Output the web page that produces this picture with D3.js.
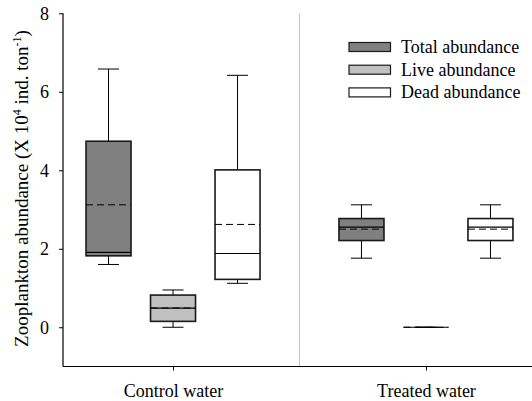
<!DOCTYPE html>
<html>
<head>
<meta charset="utf-8">
<script src="https://cdn.jsdelivr.net/npm/d3@7"></script>
<style>
  body { margin: 0; background: #fff; }
  svg { font-family: "Liberation Serif", "Times New Roman", serif; }
</style>
</head>
<body>
<div id="chart"></div>
<script>
var width = 532, height = 401;

// categories & series
const groups = ["Control water", "Treated water"];
const series = ["Total abundance", "Live abundance", "Dead abundance"];
const seriesFill = ["#808080", "#c0c0c0", "#ffffff"];

// box stats, [group][series]
const whiskerLow  = [[1.60, 0.00, 1.12], [1.76, 0.00, 1.76]];
const q1          = [[1.82, 0.15, 1.22], [2.21, 0.00, 2.21]];
const median      = [[1.91, 0.49, 1.88], [2.55, 0.00, 2.55]];
const q3          = [[4.74, 0.82, 4.01], [2.77, 0.00, 2.77]];
const whiskerHigh = [[6.58, 0.95, 6.42], [3.12, 0.00, 3.12]];
const mean        = [[3.12, 0.49, 2.62], [2.50, 0.00, 2.50]];

const yTicks = [0, 2, 4, 6, 8];

let svg = d3.select('#chart')
  .append('svg')
  .attr('width', width)
  .attr('height', height);

let plotLeft = 63, plotBottom = 366.5, plotTop = 13.3;

let yScale = d3.scaleLinear()
  .domain([-1, 8])
  .range([plotBottom, plotTop]);

let xScale = d3.scalePoint()
  .domain(groups)
  .range([plotLeft, 536])
  .padding(0.435);

let sub = d3.scalePoint()
  .domain(series)
  .range([-64.5, 64.5]);

let boxW = 45, capW = 21;

// separator between groups
let sep = (xScale(groups[0]) + xScale(groups[1])) / 2;
svg.append('line')
  .attr('x1', sep).attr('x2', sep)
  .attr('y1', plotTop).attr('y2', plotBottom)
  .attr('stroke', '#c8c8c8')
  .attr('stroke-width', 1.2);

// boxes
let boxes = [];
groups.forEach((g, gi) => {
  series.forEach((s, si) => {
    boxes.push({g, s, si, lo: whiskerLow[gi][si], q1: q1[gi][si], med: median[gi][si],
      q3: q3[gi][si], hi: whiskerHigh[gi][si], mean: mean[gi][si]});
  });
});

let bx = svg.selectAll('g.box')
  .data(boxes)
  .enter()
  .append('g')
  .attr('class', 'box')
  .attr('transform', d => `translate(${xScale(d.g) + sub(d.s)},0)`);

// whiskers
bx.append('line')
  .attr('x1', 0).attr('x2', 0)
  .attr('y1', d => yScale(d.hi)).attr('y2', d => yScale(d.q3))
  .attr('stroke', '#000').attr('stroke-width', 1);
bx.append('line')
  .attr('x1', 0).attr('x2', 0)
  .attr('y1', d => yScale(d.q1)).attr('y2', d => yScale(d.lo))
  .attr('stroke', '#000').attr('stroke-width', 1);
bx.selectAll('line.cap')
  .data(d => [d.lo, d.hi])
  .enter()
  .append('line')
  .attr('class', 'cap')
  .attr('x1', -capW / 2).attr('x2', capW / 2)
  .attr('y1', v => yScale(v)).attr('y2', v => yScale(v))
  .attr('stroke', '#000').attr('stroke-width', 1);

bx.append('rect')
  .attr('x', -boxW / 2)
  .attr('width', boxW)
  .attr('y', d => yScale(d.q3))
  .attr('height', d => Math.max(0, yScale(d.q1) - yScale(d.q3)))
  .attr('fill', d => seriesFill[d.si])
  .attr('stroke', '#1a1a1a')
  .attr('stroke-width', 1.6);

bx.append('line')
  .attr('x1', -boxW / 2).attr('x2', boxW / 2)
  .attr('y1', d => yScale(d.med)).attr('y2', d => yScale(d.med))
  .attr('stroke', '#000').attr('stroke-width', 1.2);

bx.append('line')
  .attr('x1', -boxW / 2).attr('x2', boxW / 2)
  .attr('y1', d => yScale(d.mean)).attr('y2', d => yScale(d.mean))
  .attr('stroke', '#000').attr('stroke-width', 1)
  .attr('stroke-dasharray', '7,4');

// axes
let yAxis = d3.axisLeft(yScale).tickValues(yTicks).tickSize(4).tickPadding(10).tickFormat(d3.format('d'));
let gy = svg.append('g')
  .attr('transform', `translate(${plotLeft},0)`)
  .call(yAxis);
gy.select('.domain').attr('d', `M0,${plotTop}V${plotBottom}`).attr('stroke-width', 1.2);
gy.selectAll('text').attr('font-size', 18).attr('font-family', 'Liberation Serif').attr('fill', '#000');

let xAxis = d3.axisBottom(xScale).tickSize(4).tickPadding(14);
let gx = svg.append('g')
  .attr('transform', `translate(0,${plotBottom})`)
  .call(xAxis);
gx.select('.domain').attr('d', `M${plotLeft},0H${width}`).attr('stroke-width', 1.2);
gx.selectAll('text').attr('font-size', 18).attr('font-family', 'Liberation Serif').attr('fill', '#000');

// y title
let yt = svg.append('text')
  .attr('transform', `translate(28,188.5) rotate(-90)`)
  .attr('text-anchor', 'middle')
  .attr('font-size', 19)
  .attr('fill', '#000');
yt.append('tspan').text('Zooplankton abundance (X 10');
yt.append('tspan').attr('dy', -7).attr('font-size', 12).text('4');
yt.append('tspan').attr('dy', 7).text(' ind. ton');
yt.append('tspan').attr('dy', -7).attr('font-size', 12).text('-1');
yt.append('tspan').attr('dy', 7).text(')');

// legend
let lg = svg.append('g').attr('transform', 'translate(349,40)');
let li = lg.selectAll('g')
  .data(series)
  .enter()
  .append('g')
  .attr('transform', (d, i) => `translate(0,${i * 22.7})`);
li.append('rect')
  .attr('width', 41.5).attr('height', 9)
  .attr('y', 2.5)
  .attr('fill', (d, i) => seriesFill[i])
  .attr('stroke', '#1a1a1a').attr('stroke-width', 1.2);
li.append('text')
  .attr('x', 52).attr('y', 13)
  .attr('font-size', 18)
  .attr('fill', '#000')
  .text(d => d);
</script>
</body>
</html>
